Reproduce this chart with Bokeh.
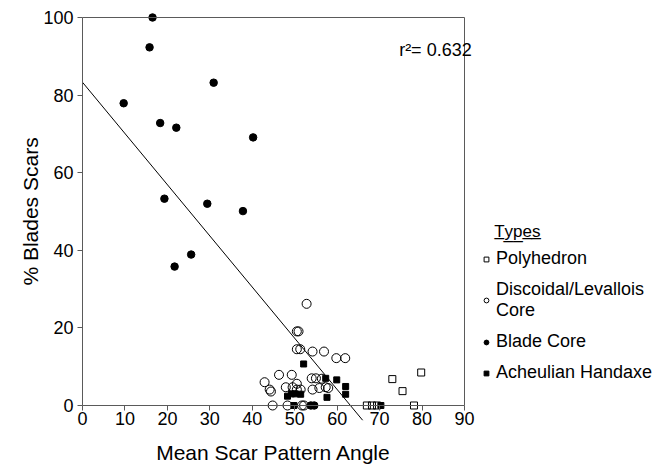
import math
from bokeh.plotting import figure
from bokeh.models import (Range1d, FixedTicker, Legend, LegendItem, Label, LinearAxis)
from bokeh.embed import file_html
from bokeh.resources import INLINE

# ---------------- data ----------------
blade_x = [9.7, 15.8, 16.5, 18.3, 22.1, 30.9, 40.2, 19.3, 29.4, 37.8, 25.6, 21.7, 53.8, 54.6]
blade_y = [77.9, 92.3, 100.0, 72.8, 71.6, 83.2, 69.1, 53.3, 52.0, 50.1, 38.9, 35.8, 0.0, 0.0]

disc_x = [50.5, 50.9, 52.8, 50.5, 51.3, 54.2, 56.9, 59.8, 61.9, 46.3, 49.3, 54.0, 55.0, 56.4,
          42.9, 44.1, 44.4, 47.9, 49.5, 50.5, 50.5, 51.4, 54.2, 55.8, 57.3, 57.9,
          44.8, 48.3, 51.7, 52.2]
disc_y = [19.1, 19.1, 26.2, 14.5, 14.5, 13.9, 13.9, 12.2, 12.2, 7.9, 7.9, 7.0, 7.0, 6.9,
          6.0, 4.1, 3.6, 4.7, 4.7, 5.6, 4.1, 4.1, 4.1, 4.5, 4.7, 4.5,
          0.0, 0.0, 0.0, 0.0]

axe_x = [52.1, 57.3, 59.9, 62.0, 62.0, 57.6, 48.3, 49.2, 50.1, 51.4, 49.8, 70.3]
axe_y = [10.7, 7.0, 6.6, 4.9, 2.9, 2.1, 2.4, 3.0, 3.0, 2.9, 0.0, 0.0]

poly_x = [73.0, 75.4, 79.8, 78.1, 67.0, 68.2, 69.4]
poly_y = [6.8, 3.7, 8.5, 0.0, 0.0, 0.0, 0.0]

fit_x = [0.0, 66.0]
fit_y = [83.3, -3.8]

x_ticks = [0, 10, 20, 30, 40, 50, 60, 70, 80, 90]
y_ticks = [0, 20, 40, 60, 80, 100]
x_title = "Mean Scar Pattern Angle"
y_title = "% Blades Scars"
r2_text = "r\u00b2= 0.632"
legend_title = "\u00a0\u00a0\u00a0T\u0332y\u0332p\u0332e\u0332s\u0332"
legend_labels = ["Polyhedron", "Discoidal/Levallois\nCore", "Blade Core", "Acheulian Handaxe"]

FONT = "Liberation Sans"
AX = "#5a5a5a"

# The plotting area covers the whole canvas; the axes are drawn at fixed data
# positions inside it so that nothing (markers on 0/100, legend, titles) is clipped.
p = figure(width=660, height=464,
           x_range=Range1d(-19.32, 136.18), y_range=Range1d(-15.21, 104.38),
           output_backend="svg", toolbar_location=None,
           min_border=0, min_border_left=0, min_border_right=0,
           min_border_top=0, min_border_bottom=0)
p.grid.visible = False
p.outline_line_color = None
p.background_fill_color = "white"
p.border_fill_color = "white"

xa = p.xaxis[0]
xa.fixed_location = 0
xa.bounds = (0, 90)
xa.ticker = FixedTicker(ticks=x_ticks)
ya = p.yaxis[0]
ya.fixed_location = 0
ya.bounds = (0, 100)
ya.ticker = FixedTicker(ticks=y_ticks)
for ax in (xa, ya):
    ax.axis_line_color = AX
    ax.major_tick_line_color = AX
    ax.major_tick_in = 0
    ax.major_tick_out = 5
    ax.minor_tick_line_color = None
    ax.major_label_text_font = FONT
    ax.major_label_text_font_size = "18px"
    ax.major_label_text_color = "black"
xa.major_label_standoff = 2
ya.major_label_standoff = 4

# box edges (top and right), no ticks
top_ax = LinearAxis(fixed_location=100, bounds=(0, 90), ticker=FixedTicker(ticks=[]),
                    axis_line_color=AX, major_tick_out=0, major_tick_in=0,
                    minor_tick_line_color=None, major_label_text_font_size="0px")
p.add_layout(top_ax, "above")
right_ax = LinearAxis(fixed_location=90, bounds=(0, 100), ticker=FixedTicker(ticks=[]),
                      axis_line_color=AX, major_tick_out=0, major_tick_in=0,
                      minor_tick_line_color=None, major_label_text_font_size="0px")
p.add_layout(right_ax, "right")

# axis titles
p.add_layout(Label(x=45.0, y=-12.1, text=x_title, text_font=FONT, text_font_size="21px",
                   text_align="center", text_baseline="middle", text_color="black"))
p.add_layout(Label(x=-12.3, y=50.0, text=y_title, text_font=FONT, text_font_size="21px",
                   text_align="center", text_baseline="middle", text_color="black",
                   angle=math.pi / 2))

# regression line
p.line(fit_x, fit_y, line_color="black", line_width=1)

r_poly = p.scatter(poly_x, poly_y, marker="square", size=7, line_color="black",
                   fill_color=None, line_width=1)
r_disc = p.scatter(disc_x, disc_y, marker="circle", size=9, line_color="black",
                   fill_color=None, line_width=1)
r_blade = p.scatter(blade_x, blade_y, marker="circle", size=7.5, line_color="black",
                    fill_color="black")
r_axe = p.scatter(axe_x, axe_y, marker="square", size=6, line_color="black",
                  fill_color="black")

p.add_layout(Label(x=74.6, y=91.5, text=r2_text, text_font=FONT, text_font_size="18px",
                   text_baseline="middle", text_color="black"))

legend = Legend(items=[LegendItem(label=legend_labels[0], renderers=[r_poly]),
                       LegendItem(label=legend_labels[1], renderers=[r_disc]),
                       LegendItem(label=legend_labels[2], renderers=[r_blade]),
                       LegendItem(label=legend_labels[3], renderers=[r_axe])],
                title=legend_title,
                location=(480, 81), border_line_color=None, background_fill_alpha=0,
                label_text_font=FONT, label_text_font_size="18px", label_text_color="black",
                title_text_font=FONT, title_text_font_size="17px", title_text_color="black",
                title_text_font_style="normal", title_standoff=6,
                glyph_width=12, glyph_height=12, label_height=20, spacing=10,
                label_standoff=4, padding=0, margin=0)
p.add_layout(legend)

open("out.html", "w").write(file_html(p, INLINE))
